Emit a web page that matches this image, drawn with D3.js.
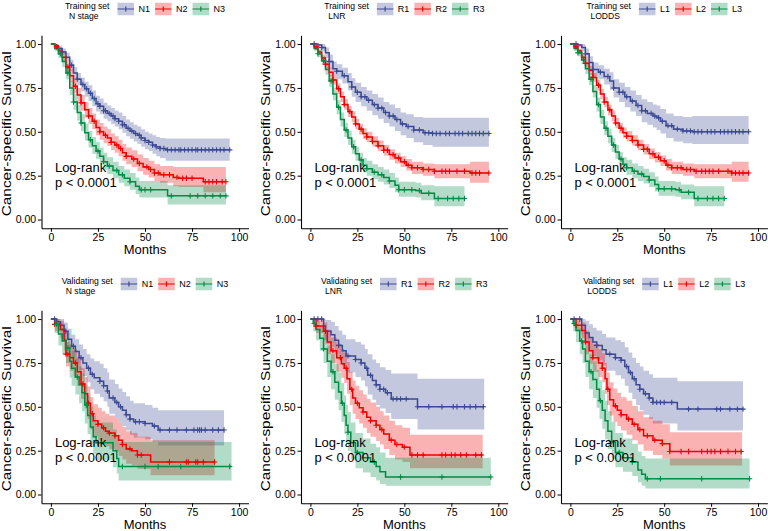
<!DOCTYPE html>
<html><head><meta charset="utf-8">
<script src="https://cdn.jsdelivr.net/npm/d3@7"></script>
<style>body{margin:0;background:#fff} svg{display:block} text{font-family:"Liberation Sans",Arial,Helvetica,sans-serif}</style>
</head><body><svg id="c" width="768" height="531"></svg>
<script>
// ---------- DATA: rows are [months, survival, lower CI, upper CI] ----------
const xTicks = [0, 25, 50, 75, 100];
const yTicks = [0, 0.25, 0.5, 0.75, 1];
const nLabels = ["N1", "N2", "N3"];
const rLabels = ["R1", "R2", "R3"];
const lLabels = ["L1", "L2", "L3"];
const pText = ["Log-rank", "p < 0.0001"];

// Training set, N stage
const trN1 = [[0,1,1,1],[2,0.99,0.98,1],[4,0.975,0.96,0.99],[6,0.955,0.935,0.975],[8,0.925,0.9,0.95],[10,0.88,0.85,0.91],[12,0.835,0.8,0.87],[14,0.8,0.765,0.835],[16,0.77,0.73,0.81],[18,0.745,0.7,0.785],[20,0.72,0.675,0.765],[22,0.69,0.645,0.735],[24,0.66,0.615,0.705],[26,0.645,0.6,0.69],[28,0.62,0.575,0.665],[30,0.605,0.56,0.65],[32,0.59,0.545,0.635],[34,0.575,0.53,0.62],[36,0.56,0.515,0.61],[38,0.54,0.495,0.59],[40,0.52,0.475,0.57],[42,0.505,0.46,0.555],[44,0.49,0.445,0.54],[46,0.48,0.43,0.53],[48,0.465,0.415,0.515],[50,0.45,0.4,0.5],[52,0.44,0.39,0.49],[54,0.425,0.375,0.48],[56,0.415,0.36,0.47],[58,0.405,0.35,0.465],[61,0.397,0.335,0.462],[95,0.397,0.335,0.462]];
const trN2 = [[0,1,1,1],[2,0.985,0.97,1],[4,0.96,0.94,0.98],[6,0.925,0.9,0.95],[8,0.87,0.84,0.9],[10,0.82,0.785,0.855],[12,0.76,0.72,0.8],[14,0.71,0.67,0.75],[16,0.665,0.62,0.71],[18,0.625,0.58,0.67],[20,0.59,0.545,0.635],[22,0.56,0.515,0.605],[24,0.525,0.48,0.57],[26,0.5,0.455,0.55],[28,0.48,0.435,0.53],[30,0.465,0.42,0.515],[32,0.44,0.395,0.49],[34,0.425,0.38,0.475],[36,0.405,0.36,0.455],[38,0.38,0.335,0.43],[40,0.36,0.315,0.41],[43,0.345,0.3,0.395],[46,0.32,0.275,0.37],[49,0.3,0.255,0.35],[52,0.285,0.24,0.335],[55,0.265,0.22,0.315],[58,0.255,0.21,0.305],[65,0.24,0.19,0.3],[68,0.235,0.185,0.3],[81,0.215,0.155,0.3],[93,0.215,0.155,0.3]];
const trN3 = [[0,1,1,1],[2,0.975,0.96,0.99],[4,0.945,0.92,0.97],[6,0.9,0.87,0.93],[8,0.835,0.8,0.87],[10,0.75,0.71,0.79],[12,0.67,0.625,0.715],[14,0.61,0.565,0.655],[16,0.55,0.505,0.6],[18,0.495,0.45,0.545],[20,0.455,0.41,0.505],[22,0.42,0.375,0.47],[24,0.39,0.345,0.44],[26,0.36,0.315,0.41],[28,0.33,0.285,0.38],[30,0.305,0.26,0.355],[33,0.28,0.235,0.33],[36,0.255,0.21,0.305],[39,0.235,0.19,0.285],[42,0.215,0.17,0.265],[45,0.19,0.145,0.24],[47,0.17,0.125,0.22],[62,0.135,0.085,0.195],[93,0.135,0.085,0.195]];
const trN1cens = [6,11,14,17,19,21,23,25,26,28,29,31,33,34,36,38,39,41,43,45,47,48,50,52,54,56,58,60,62,64,66,68,69,71,73,75,77,78,80,82,84,86,88,90,92,95];
const trN2cens = [3,9,13,16,20,23,26,29,32,35,37,40,44,47,51,53,55,57,60,63,67,70,72,75,82,84,86,88,91,93];
const trN3cens = [5,9,12,16,21,25,28,31,35,38,42,48,50,53,64,74,78,82,86,90,93];

// Training set, LNR
const trR1 = [[0,1,1,1],[4,0.995,0.985,1],[6,0.98,0.96,1],[8,0.95,0.92,0.98],[10,0.9,0.86,0.94],[12,0.86,0.82,0.9],[14,0.845,0.8,0.885],[17,0.82,0.775,0.865],[20,0.785,0.735,0.835],[22,0.755,0.7,0.805],[24,0.725,0.67,0.78],[27,0.7,0.645,0.755],[30,0.68,0.62,0.735],[33,0.655,0.595,0.715],[36,0.635,0.575,0.695],[39,0.61,0.55,0.67],[42,0.59,0.53,0.655],[45,0.57,0.505,0.635],[48,0.545,0.48,0.61],[51,0.53,0.465,0.6],[55,0.51,0.44,0.585],[60,0.495,0.425,0.58],[65,0.49,0.415,0.58],[95,0.49,0.415,0.58]];
const trR2 = [[0,1,1,1],[2,0.985,0.975,0.995],[4,0.955,0.94,0.97],[6,0.92,0.9,0.94],[8,0.885,0.86,0.91],[10,0.84,0.815,0.865],[12,0.795,0.77,0.82],[14,0.745,0.715,0.775],[16,0.7,0.67,0.73],[18,0.655,0.625,0.685],[20,0.615,0.585,0.645],[22,0.585,0.555,0.615],[24,0.545,0.515,0.575],[26,0.515,0.485,0.545],[28,0.49,0.46,0.52],[30,0.47,0.44,0.5],[33,0.445,0.415,0.475],[36,0.42,0.39,0.45],[39,0.395,0.365,0.425],[42,0.37,0.34,0.4],[45,0.35,0.32,0.38],[48,0.33,0.3,0.36],[51,0.31,0.28,0.345],[54,0.295,0.26,0.33],[60,0.285,0.25,0.32],[66,0.275,0.235,0.315],[85,0.265,0.21,0.33],[95,0.265,0.21,0.33]];
const trR3 = [[0,1,1,1],[2,0.975,0.96,0.99],[4,0.945,0.925,0.965],[6,0.905,0.88,0.93],[8,0.855,0.825,0.885],[10,0.79,0.755,0.825],[12,0.715,0.68,0.75],[14,0.64,0.6,0.68],[16,0.57,0.53,0.61],[18,0.51,0.47,0.55],[20,0.465,0.425,0.505],[22,0.415,0.375,0.455],[24,0.375,0.335,0.415],[26,0.34,0.3,0.38],[28,0.31,0.27,0.35],[30,0.29,0.25,0.335],[33,0.27,0.23,0.315],[36,0.255,0.215,0.3],[39,0.24,0.2,0.285],[42,0.22,0.18,0.265],[45,0.195,0.155,0.24],[47,0.17,0.13,0.215],[56,0.165,0.125,0.21],[59,0.15,0.11,0.195],[66,0.12,0.075,0.19],[82,0.12,0.075,0.19]];
const trR1cens = [2,6,10,14,18,22,25,27,29,31,34,36,38,40,42,44,46,49,52,55,58,61,63,65,67,69,72,74,77,79,81,84,86,88,90,92,95];
const trR2cens = [3,8,12,15,18,21,24,27,30,33,36,39,41,44,47,50,52,54,57,60,63,66,70,72,74,78,82,86,88,90,95];
const trR3cens = [4,7,11,15,19,23,27,30,34,38,42,47,50,54,58,63,68,73,76,79,82];

// Training set, LODDS
const trL1 = [[0,1,1,1],[4,0.995,0.985,1],[6,0.98,0.96,1],[8,0.945,0.915,0.975],[10,0.895,0.86,0.93],[12,0.855,0.815,0.895],[15,0.84,0.8,0.88],[18,0.815,0.77,0.86],[21,0.79,0.74,0.84],[23,0.75,0.695,0.8],[26,0.725,0.67,0.78],[29,0.7,0.64,0.755],[32,0.675,0.615,0.735],[35,0.65,0.59,0.71],[38,0.62,0.555,0.685],[41,0.605,0.54,0.67],[44,0.59,0.525,0.655],[46,0.58,0.51,0.65],[48,0.56,0.49,0.63],[51,0.535,0.465,0.605],[55,0.515,0.445,0.59],[60,0.505,0.435,0.585],[65,0.5,0.43,0.59],[95,0.5,0.43,0.59]];
const trL2 = [[0,1,1,1],[2,0.985,0.975,0.995],[4,0.96,0.945,0.975],[6,0.925,0.905,0.945],[8,0.89,0.865,0.915],[10,0.85,0.825,0.875],[12,0.81,0.785,0.835],[14,0.765,0.735,0.795],[16,0.715,0.685,0.745],[18,0.67,0.64,0.7],[20,0.625,0.595,0.655],[22,0.59,0.56,0.62],[24,0.55,0.52,0.58],[26,0.52,0.49,0.55],[28,0.495,0.465,0.525],[30,0.475,0.445,0.505],[33,0.45,0.42,0.48],[36,0.425,0.395,0.455],[39,0.4,0.37,0.43],[42,0.375,0.345,0.405],[45,0.355,0.325,0.385],[48,0.335,0.305,0.365],[51,0.31,0.28,0.345],[54,0.295,0.26,0.33],[60,0.285,0.25,0.32],[66,0.275,0.235,0.315],[86,0.265,0.215,0.33],[95,0.265,0.215,0.33]];
const trL3 = [[0,1,1,1],[2,0.975,0.96,0.99],[4,0.95,0.93,0.97],[6,0.91,0.885,0.935],[8,0.86,0.83,0.89],[10,0.8,0.765,0.835],[12,0.73,0.695,0.765],[14,0.655,0.615,0.695],[16,0.585,0.545,0.625],[18,0.52,0.48,0.56],[20,0.475,0.435,0.515],[22,0.425,0.385,0.465],[24,0.385,0.345,0.425],[26,0.345,0.305,0.385],[28,0.315,0.275,0.355],[30,0.295,0.255,0.34],[33,0.275,0.235,0.32],[36,0.26,0.22,0.305],[39,0.245,0.205,0.29],[42,0.225,0.185,0.27],[45,0.2,0.16,0.245],[47,0.175,0.135,0.22],[56,0.17,0.13,0.215],[59,0.155,0.115,0.2],[66,0.12,0.075,0.19],[82,0.12,0.075,0.19]];
const trL1cens = [3,8,12,16,20,23,26,28,30,33,36,38,40,43,45,47,49,52,54,57,60,62,64,66,68,70,73,75,77,80,82,84,86,88,90,92,95];
const trL2cens = [3,8,12,15,18,21,24,27,30,33,36,39,41,44,47,50,52,54,57,59,62,64,67,70,72,74,76,79,84,86,88,90,92,95];
const trL3cens = [4,7,11,15,19,23,27,30,34,38,42,47,50,54,58,63,68,73,76,79,82];

// Validating set, N stage
const vaN1 = [[0,1,1,1],[3,0.985,0.96,1],[5,0.965,0.93,1],[7,0.93,0.88,0.98],[9,0.885,0.83,0.945],[11,0.845,0.78,0.91],[13,0.815,0.745,0.885],[15,0.78,0.71,0.855],[17,0.75,0.675,0.83],[19,0.72,0.64,0.8],[21,0.685,0.6,0.775],[23,0.665,0.575,0.76],[26,0.645,0.555,0.745],[28,0.62,0.53,0.72],[30,0.59,0.5,0.695],[31,0.55,0.46,0.655],[34,0.525,0.435,0.63],[36,0.5,0.41,0.605],[38,0.48,0.39,0.585],[40,0.455,0.365,0.56],[42,0.43,0.34,0.535],[44,0.415,0.325,0.52],[50,0.405,0.315,0.51],[54,0.39,0.3,0.495],[57,0.368,0.28,0.48],[92,0.368,0.28,0.48]];
const vaN2 = [[0,1,1,1],[2,0.97,0.93,1],[5,0.94,0.89,0.99],[7,0.88,0.82,0.945],[8,0.8,0.73,0.87],[10,0.78,0.705,0.855],[12,0.75,0.675,0.83],[14,0.7,0.62,0.785],[16,0.63,0.545,0.72],[18,0.575,0.49,0.67],[19.5,0.52,0.43,0.615],[21,0.46,0.37,0.555],[22.5,0.42,0.33,0.515],[25,0.4,0.31,0.495],[27,0.38,0.29,0.475],[29,0.36,0.275,0.46],[31,0.35,0.26,0.45],[34,0.335,0.245,0.435],[36,0.31,0.22,0.41],[38,0.285,0.2,0.385],[40,0.26,0.175,0.36],[43,0.25,0.165,0.35],[46,0.225,0.145,0.33],[53,0.185,0.11,0.31],[87,0.185,0.11,0.31]];
const vaN3 = [[0,1,1,1],[2,0.97,0.92,1],[4,0.915,0.85,0.98],[6,0.875,0.8,0.95],[8,0.835,0.75,0.92],[10,0.76,0.665,0.855],[11,0.72,0.62,0.82],[13,0.67,0.57,0.775],[15,0.625,0.52,0.73],[16.5,0.58,0.475,0.69],[18,0.51,0.405,0.625],[19.5,0.45,0.345,0.565],[21,0.385,0.28,0.5],[22.5,0.33,0.23,0.45],[24,0.295,0.195,0.41],[33,0.25,0.155,0.37],[35,0.205,0.12,0.33],[36,0.16,0.08,0.3],[96,0.16,0.08,0.3]];
const vaN1cens = [2,8,12,16,20,22,26,28,30,33,35,37,40,42,45,47,50,55,58,63,67,72,76,78,79,80,82,86,89,92];
const vaN2cens = [2,8,9,13,17,20,22,25,28,31,34,38,42,46,48,63,72,73,77,78,81,87];
const vaN3cens = [3,9,14,19,25,38,50,57,69,95];

// Validating set, LNR
const vaR1 = [[0,1,1,1],[7,0.96,0.9,1],[8,0.93,0.86,0.995],[11,0.91,0.84,0.985],[13,0.88,0.8,0.96],[15,0.85,0.765,0.935],[17,0.82,0.73,0.91],[19,0.79,0.695,0.885],[24,0.77,0.67,0.87],[27,0.75,0.65,0.855],[29,0.72,0.615,0.83],[30.5,0.68,0.57,0.8],[33,0.65,0.54,0.77],[35,0.625,0.51,0.75],[37,0.6,0.49,0.725],[40,0.58,0.465,0.71],[43,0.545,0.43,0.69],[57,0.5,0.37,0.66],[92.5,0.5,0.37,0.66]];
const vaR2 = [[0,1,1,1],[3,0.96,0.92,1],[7,0.93,0.88,0.98],[9,0.87,0.8,0.94],[11,0.82,0.75,0.895],[14,0.78,0.7,0.86],[16.5,0.745,0.665,0.83],[18,0.72,0.635,0.81],[19.5,0.66,0.575,0.755],[21,0.6,0.51,0.7],[22.5,0.55,0.46,0.65],[24,0.52,0.43,0.62],[26,0.495,0.405,0.595],[28,0.47,0.38,0.57],[30,0.44,0.35,0.545],[32,0.42,0.33,0.525],[35,0.395,0.305,0.5],[37,0.37,0.285,0.475],[39,0.345,0.26,0.45],[42,0.31,0.225,0.42],[45,0.285,0.2,0.395],[49,0.27,0.185,0.38],[53,0.225,0.15,0.34],[91.7,0.225,0.15,0.34]];
const vaR3 = [[0,1,1,1],[1.5,0.975,0.93,1],[3,0.94,0.88,0.99],[5,0.89,0.82,0.96],[7,0.83,0.75,0.91],[9,0.76,0.67,0.85],[11,0.7,0.6,0.8],[13,0.64,0.54,0.745],[15,0.585,0.48,0.695],[16.5,0.52,0.415,0.635],[18,0.45,0.345,0.565],[19,0.395,0.29,0.51],[20,0.355,0.25,0.47],[21.5,0.295,0.2,0.41],[24,0.24,0.15,0.35],[28,0.21,0.125,0.32],[32,0.185,0.1,0.29],[35,0.16,0.08,0.27],[37,0.13,0.06,0.24],[40,0.1,0.05,0.21],[96,0.1,0.05,0.21]];
const vaR1cens = [2,4,6,15,20,24,27,30,32,35,37,39,41,44,46,48,51,57,63,70,76,78,82,85,88,92];
const vaR2cens = [3,8,12,16,19,22,25,28,32,35,38,43,46,50,54,57,60,70,72,75,77,80,83,88,91];
const vaR3cens = [2,7,12,17,20,25,34,48,70,96];

// Validating set, LODDS
const vaL1 = [[0,1,1,1],[6,0.965,0.91,1],[8,0.92,0.85,0.99],[10,0.895,0.82,0.97],[12,0.87,0.79,0.95],[14,0.85,0.765,0.935],[17,0.825,0.735,0.915],[19,0.8,0.705,0.895],[24,0.78,0.68,0.88],[27,0.765,0.66,0.87],[29,0.73,0.62,0.84],[31,0.695,0.58,0.81],[33,0.66,0.545,0.78],[35,0.625,0.51,0.75],[37,0.6,0.48,0.73],[39,0.575,0.455,0.705],[42,0.55,0.43,0.685],[44,0.525,0.405,0.665],[57,0.487,0.365,0.645],[92,0.487,0.365,0.645]];
const vaL2 = [[0,1,1,1],[3,0.965,0.93,1],[6,0.935,0.89,0.98],[8,0.87,0.8,0.935],[10,0.82,0.745,0.89],[12,0.78,0.7,0.86],[15,0.75,0.67,0.83],[17,0.72,0.64,0.805],[18.5,0.66,0.575,0.75],[19.5,0.6,0.51,0.695],[21,0.54,0.45,0.64],[23,0.505,0.415,0.605],[25,0.48,0.39,0.58],[27,0.455,0.365,0.555],[30,0.43,0.34,0.535],[33,0.4,0.31,0.505],[36,0.37,0.285,0.475],[39,0.335,0.25,0.44],[44,0.31,0.225,0.42],[49,0.29,0.205,0.4],[53,0.245,0.165,0.355],[91.5,0.245,0.165,0.355]];
const vaL3 = [[0,1,1,1],[1.5,0.975,0.93,1],[3,0.935,0.87,0.99],[5,0.875,0.8,0.95],[6.5,0.83,0.75,0.91],[8,0.76,0.67,0.85],[10,0.7,0.6,0.8],[12,0.655,0.55,0.76],[14,0.6,0.495,0.71],[15.5,0.535,0.43,0.65],[17,0.48,0.375,0.595],[18.5,0.42,0.315,0.535],[20,0.36,0.26,0.475],[22,0.3,0.205,0.415],[24,0.24,0.155,0.35],[28,0.21,0.13,0.32],[33,0.185,0.105,0.29],[36,0.14,0.07,0.245],[38,0.115,0.05,0.22],[40,0.09,0.035,0.205],[95.5,0.09,0.035,0.205]];
const vaL1cens = [2,5,14,21,24,27,30,32,34,37,40,42,44,46,48,50,54,63,68,78,80,85,89,92];
const vaL2cens = [3,8,12,17,20,24,27,31,34,37,41,45,49,53,59,63,70,73,75,77,80,84,88,91];
const vaL3cens = [2,6,11,16,22,26,33,41,48,70,95.5];

// ---------- STYLE / LAYOUT ----------
const colors = ["#3B4992", "#EE0000", "#008B45"];
const rows = [{yBot: 228.3, yTop: 35.3, off: 0}, {yBot: 503.3, yTop: 310.3, off: 275}];
const cols = [{x0: 41.5, x1: 248.5}, {x0: 301, x1: 507.7}, {x0: 561, x1: 767.4}];

const panels = [
  {row:0, col:0, title:["Training set","N stage"], labels:nLabels, curves:[trN1,trN2,trN3], cens:[trN1cens,trN2cens,trN3cens]},
  {row:0, col:1, title:["Training set","LNR"], labels:rLabels, curves:[trR1,trR2,trR3], cens:[trR1cens,trR2cens,trR3cens]},
  {row:0, col:2, title:["Training set","LODDS"], labels:lLabels, curves:[trL1,trL2,trL3], cens:[trL1cens,trL2cens,trL3cens]},
  {row:1, col:0, title:["Validating set","N stage"], labels:nLabels, curves:[vaN1,vaN2,vaN3], cens:[vaN1cens,vaN2cens,vaN3cens]},
  {row:1, col:1, title:["Validating set","LNR"], labels:rLabels, curves:[vaR1,vaR2,vaR3], cens:[vaR1cens,vaR2cens,vaR3cens]},
  {row:1, col:2, title:["Validating set","LODDS"], labels:lLabels, curves:[vaL1,vaL2,vaL3], cens:[vaL1cens,vaL2cens,vaL3cens]}
];

const svg = d3.select("#c");
const survAt = (d, t) => { let s = d[0][1]; for (const r of d) if (r[0] <= t) s = r[1]; return s; };
const plusPath = (x, y, a) => `M${x-a},${y}H${x+a}M${x},${y-a}V${y+a}`;

panels.forEach(p => {
  const R = rows[p.row], C = cols[p.col];
  const x = d3.scaleLinear().domain([-5, 105]).range([C.x0, C.x1]);
  const y = d3.scaleLinear().domain([-0.05, 1.05]).range([R.yBot, R.yTop]);
  const g = svg.append("g");

  const area = d3.area().curve(d3.curveStepAfter).x(d => x(d[0])).y0(d => y(d[2])).y1(d => y(d[3]));
  const line = d3.line().curve(d3.curveStepAfter).x(d => x(d[0])).y(d => y(d[1]));

  p.curves.forEach((c, i) => {
    g.append("path").attr("d", area(c)).attr("fill", colors[i]).attr("fill-opacity", 0.3).attr("stroke", "none");
  });
  p.curves.forEach((c, i) => {
    g.append("path").attr("d", line(c)).attr("fill", "none").attr("stroke", colors[i]).attr("stroke-width", 1.5);
  });
  p.curves.forEach((c, i) => {
    g.append("path").attr("d", p.cens[i].map(t => plusPath(x(t), y(survAt(c, t)), 2.7)).join(""))
      .attr("fill", "none").attr("stroke", colors[i]).attr("stroke-width", 1.1);
  });

  // axes
  const ax = g.append("g").attr("transform", `translate(0,${R.yBot})`)
    .call(d3.axisBottom(x).tickValues(xTicks).tickSize(3.5).tickSizeOuter(0).tickPadding(1.5));
  const ay = g.append("g").attr("transform", `translate(${C.x0},0)`)
    .call(d3.axisLeft(y).tickValues(yTicks).tickFormat(d3.format(".2f")).tickSize(3.5).tickSizeOuter(0).tickPadding(1.8));
  [ax, ay].forEach(a => {
    a.select(".domain").attr("stroke", "#000").attr("stroke-width", 1.1);
    a.selectAll(".tick line").attr("stroke", "#000").attr("stroke-width", 1);
    a.selectAll(".tick text").attr("fill", "#000").style("font-size", "10.5px").style("font-family", '"Liberation Sans",Arial,sans-serif');
  });

  // axis titles
  const cx = (C.x0 + C.x1) / 2, cy = (R.yTop + R.yBot) / 2;
  g.append("text").attr("x", cx).attr("y", R.yBot + 25.7).attr("text-anchor", "middle").style("font-size", "13px").text("Months");
  g.append("text").attr("transform", `translate(${C.x0 - 30.7},${cy + 2}) rotate(-90)`).attr("text-anchor", "middle")
    .attr("textLength", 165).attr("lengthAdjust", "spacingAndGlyphs").style("font-size", "13px").text("Cancer-specific Survival");

  // log-rank text
  g.append("text").attr("x", x(0) + 4).attr("y", 171.5 + R.off).style("font-size", "13px").text(pText[0]);
  g.append("text").attr("x", x(0) + 4).attr("y", 187 + R.off).style("font-size", "13px").text(pText[1]);

  // legend
  const lg = g.append("g");
  const t1 = lg.append("text").attr("x", 0).attr("y", 9 + R.off).style("font-size", "8.6px").text(p.title[0]);
  lg.append("text").attr("x", 4).attr("y", 18.5 + R.off).style("font-size", "8.6px").text(p.title[1]);
  let kx = t1.node().getComputedTextLength() + 8;
  const ky = 9 + R.off, kw = 16.5, kh = 12.5;
  p.labels.forEach((lab, i) => {
    lg.append("rect").attr("x", kx).attr("y", ky - kh / 2).attr("width", kw).attr("height", kh).attr("fill", colors[i]).attr("fill-opacity", 0.3);
    lg.append("path").attr("d", `M${kx},${ky}H${kx + kw}` + plusPath(kx + kw / 2, ky, 2.6)).attr("stroke", colors[i]).attr("stroke-width", 1.2).attr("fill", "none");
    const tl = lg.append("text").attr("x", kx + kw + 4.5).attr("y", ky + 3.3).style("font-size", "9px").text(lab);
    kx = kx + kw + 4.5 + tl.node().getComputedTextLength() + 5;
  });
  const lw = kx - 5;
  lg.attr("transform", `translate(${cx - lw / 2},0)`);
});
</script></body></html>
